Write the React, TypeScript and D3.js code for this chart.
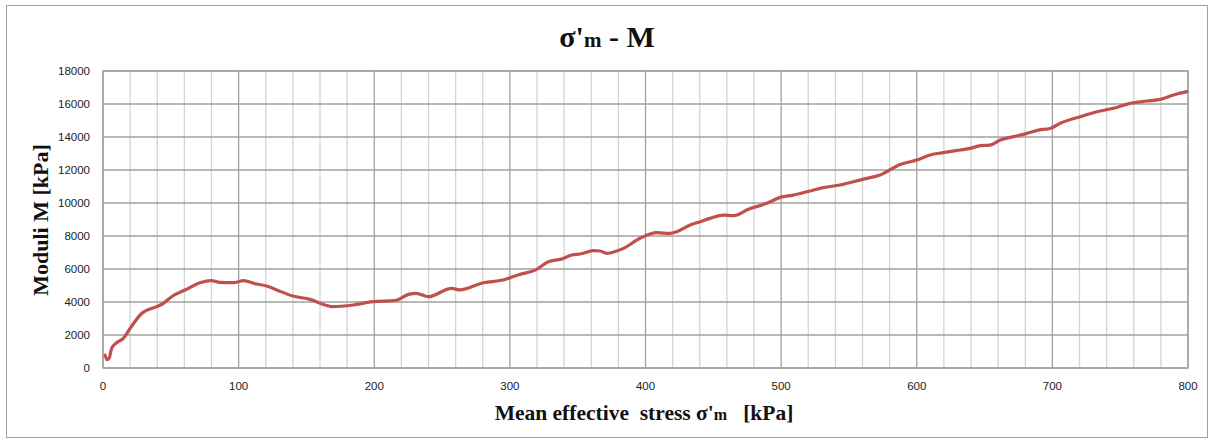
import React from "react";
import * as d3 from "d3";

const stressValues = [
  1.5, 3, 4.5, 6.4, 10, 15, 20, 28.5, 39.6, 44.5, 50.6, 61.7, 71.5, 80, 86, 96,
  103.5, 113, 120.7, 129, 140, 152.7, 163.7, 168.6, 184.6, 199.3, 215, 226, 231,
  240, 257, 263, 280.5, 295, 306, 319.8, 328.4, 338, 345.6, 351.8, 361.6, 366.5,
  371.5, 383.7, 396, 408.3, 418, 423, 432.9, 440.3, 447.6, 457.4, 464.8, 475.9,
  489.4, 499.3, 509, 521.4, 531.2, 543.5, 560.7, 573, 587.8, 600, 609.9, 619.7,
  632, 639.4, 647, 654, 661.5, 671.3, 681.2, 689.8, 698.4, 705.8, 720.5, 732.8,
  745, 757.4, 769.7, 779.5, 789.3, 799.1,
];
const moduliValues = [
  780, 500, 600, 1190, 1530, 1800, 2400, 3300, 3720, 3920, 4320, 4770, 5170,
  5300, 5190, 5170, 5290, 5090, 4970, 4700, 4360, 4160, 3820, 3720, 3820, 4020,
  4080, 4480, 4520, 4320, 4830, 4730, 5170, 5330, 5640, 5980, 6440, 6600, 6850,
  6910, 7110, 7090, 6950, 7250, 7860, 8200, 8160, 8260, 8670, 8870, 9070, 9270,
  9230, 9620, 9980, 10340, 10480, 10730, 10930, 11090, 11450, 11700, 12340,
  12600, 12910, 13050, 13210, 13310, 13480, 13510, 13820, 14020, 14220, 14420,
  14520, 14830, 15230, 15530, 15740, 16040, 16180, 16280, 16550, 16750,
];
const xTicks = [0, 100, 200, 300, 400, 500, 600, 700, 800];
const yTicks = [0, 2000, 4000, 6000, 8000, 10000, 12000, 14000, 16000, 18000];

export default function App() {
  const W = 1213, H = 441;
  const left = 103, right = 1188, top = 71, bottom = 368;
  const x = d3.scaleLinear().domain([0, 800]).range([left, right]);
  const y = d3.scaleLinear().domain([0, 18000]).range([bottom, top]);
  const minorX = d3.range(0, 801, 20).filter((v) => v % 100 !== 0);
  const pts = stressValues.map((s, i) => [s, moduliValues[i]] as [number, number]);
  const line = d3
    .line<[number, number]>()
    .x((d) => x(d[0]))
    .y((d) => y(d[1]))
    .curve(d3.curveMonotoneX);
  const serif = "'Liberation Serif', 'Times New Roman', serif";
  const sans = "'Liberation Sans', Arial, sans-serif";
  return (
    <svg width={W} height={H} style={{ position: "absolute", left: 0, top: 0 }}>
      <rect x={0} y={0} width={W} height={H} fill="#fff" />
      <rect x={6.5} y={5.5} width={1201} height={432} fill="none" stroke="#a0a0a0" />
      {minorX.map((v) => (
        <line key={"mx" + v} x1={x(v)} x2={x(v)} y1={top} y2={bottom} stroke="#d4d4d4" strokeWidth={1.3} />
      ))}
      {xTicks.map((v) => (
        <line key={"gx" + v} x1={x(v)} x2={x(v)} y1={top} y2={bottom} stroke="#a0a0a0" strokeWidth={1.3} />
      ))}
      {yTicks.map((v) => (
        <line key={"gy" + v} x1={left} x2={right} y1={y(v)} y2={y(v)} stroke="#a0a0a0" strokeWidth={1.3} />
      ))}
      <rect x={left} y={top} width={right - left} height={bottom - top} fill="none" stroke="#a0a0a0" strokeWidth={1.3} />
      <path d={line(pts) ?? ""} fill="none" stroke="#C0504D" strokeWidth={3.2} strokeLinejoin="round" strokeLinecap="round" />
      {yTicks.map((v) => (
        <text key={"ty" + v} x={left - 13} y={y(v)} dy="0.35em" textAnchor="end" fontFamily={sans} fontSize={11.5} fill="#222">
          {v}
        </text>
      ))}
      {xTicks.map((v) => (
        <text key={"tx" + v} x={x(v)} y={bottom + 18} dy="0.35em" textAnchor="middle" fontFamily={sans} fontSize={11.5} fill="#222">
          {v}
        </text>
      ))}
      <text x={607} y={47} textAnchor="middle" fontFamily={serif} fontWeight="bold" fontSize={30} fill="#111">
        σ'<tspan fontSize={21}>m</tspan> - M
      </text>
      <text x={644} y={420} textAnchor="middle" fontFamily={serif} fontWeight="bold" fontSize={21.5} fill="#111" style={{ whiteSpace: "pre" }}>
        {"Mean effective\u00a0 stress σ'"}<tspan fontSize={16}>m</tspan>{"\u00a0\u00a0 [kPa]"}
      </text>
      <text transform="translate(48,220) rotate(-90)" textAnchor="middle" fontFamily={serif} fontWeight="bold" fontSize={22} fill="#111">
        Moduli M [kPa]
      </text>
    </svg>
  );
}
